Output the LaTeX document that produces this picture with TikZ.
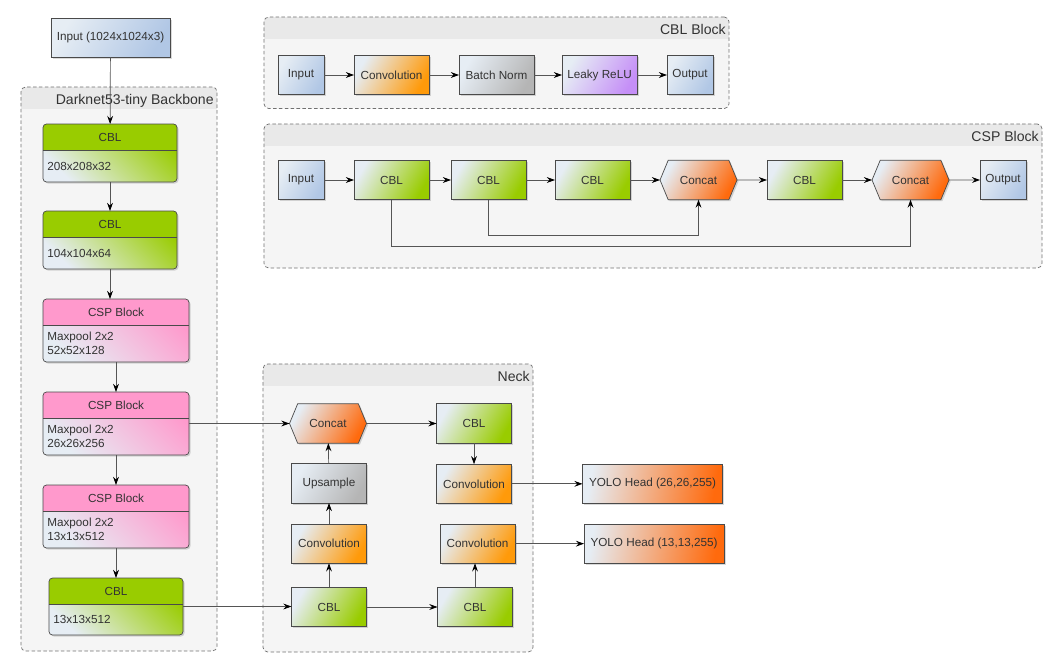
\documentclass[tikz,border=0pt]{standalone}
\usepackage{fontspec}
\setmainfont{Liberation Sans}
\usetikzlibrary{positioning, arrows.meta, shapes.symbols, shadows}

\definecolor{pale}{HTML}{E6EDF4}
\definecolor{edge}{HTML}{4A4A4A}
\definecolor{ink}{HTML}{333333}
\definecolor{wire}{HTML}{555555}
\definecolor{inblue}{HTML}{B1C7E5}
\definecolor{convorange}{HTML}{FF9A0A}
\definecolor{normgray}{HTML}{B5B5B5}
\definecolor{relupurple}{HTML}{C58FF7}
\definecolor{cblgreen}{HTML}{99CC00}
\definecolor{csppink}{HTML}{FF99CC}
\definecolor{catorange}{HTML}{FF6A0D}
\definecolor{groupfill}{HTML}{F5F5F5}
\definecolor{bandfill}{HTML}{E9E9E9}
\definecolor{dashgray}{HTML}{707070}

\begin{document}
\begin{tikzpicture}[
        x=0.03cm, y=-0.03cm,
        font=\fontsize{10}{12}\selectfont,
        text=ink,
        >={Stealth[length=7pt, width=5pt, inset=2.5pt, color=black]},
        box/.style={
            draw=edge, line width=0.6pt, outer sep=0pt,
            top color=pale, bottom color=#1, shading angle=60,
            minimum width=2.25cm, minimum height=1.18cm, inner sep=2pt,
            drop shadow={shadow xshift=1.3pt, shadow yshift=-1.3pt, opacity=0.3}
        },
        port/.style={box=inblue, minimum width=1.38cm},
        concat/.style={
            box=catorange, shape=signal, signal to=east and west,
            signal pointer angle=135, minimum width=2.31cm
        },
        stage/.style n args={3}{
            draw=edge, line width=0.6pt, rounded corners=3pt, outer sep=0pt,
            top color=pale, bottom color=#1, shading angle=135,
            minimum width=4.02cm, minimum height=1.74cm,
            drop shadow={shadow xshift=1.3pt, shadow yshift=-1.3pt, opacity=0.3},
            path picture={
                \fill[#1, sharp corners] (path picture bounding box.north west)
                    rectangle ([yshift=-0.78cm]path picture bounding box.north east);
                \draw[edge, line width=0.6pt]
                    ([yshift=-0.78cm]path picture bounding box.north west) --
                    ([yshift=-0.78cm]path picture bounding box.north east);
                \node[minimum size=0pt, inner sep=0pt, anchor=center]
                    at ([yshift=-0.39cm]path picture bounding box.north) {#2};
                \node[minimum size=0pt, inner sep=0pt, anchor=west, align=left]
                    at ([xshift=0.13cm, yshift=-0.39cm]path picture bounding box.west) {#3};
            }
        },
        group/.style={
            draw=dashgray, dash pattern=on 3pt off 2pt, line width=0.6pt,
            rounded corners=4pt, fill=groupfill,
            path picture={
                \fill[bandfill, sharp corners] (path picture bounding box.north west)
                    rectangle ([yshift=-0.65cm]path picture bounding box.north east);
                \node[minimum size=0pt, inner sep=0pt, anchor=base east, font=\fontsize{12}{14}\selectfont]
                    at ([xshift=-0.09cm, yshift=-0.53cm]path picture bounding box.north east) {#1};
            }
        },
        arrow/.style={->, draw=wire, line width=0.6pt}
    ]

    \useasboundingbox (0,0) rectangle (1057,670);

    % Groups
    \node[group={CBL Block}, minimum width=13.95cm, minimum height=2.745cm] (cblgrp) at (496.5,62.75) {};
    \node[group={CSP Block}, minimum width=23.34cm, minimum height=4.32cm] (cspgrp) at (653,196) {};
    \node[group={Darknet53-tiny Backbone}, minimum width=5.88cm, minimum height=16.92cm] (bbgrp) at (119,369) {};
    \node[group=Neck, minimum width=8.1cm, minimum height=8.64cm] (neckgrp) at (398,508) {};

    % CBL block
    \node[port] (cblin) at (301,75) {Input};
    \node[box=convorange, right=0.9cm of cblin] (cblconv) {Convolution};
    \node[box=normgray, right=0.9cm of cblconv] (cblnorm) {Batch Norm};
    \node[box=relupurple, right=0.84cm of cblnorm] (cblrelu) {Leaky ReLU};
    \node[port, right=0.9cm of cblrelu] (cblout) {Output};

    % CSP block
    \node[port] (cspin) at (301,180) {Input};
    \node[box=cblgreen, right=0.9cm of cspin] (csp1) {CBL};
    \node[box=cblgreen, right=0.66cm of csp1] (csp2) {CBL};
    \node[box=cblgreen, right=0.87cm of csp2] (csp3) {CBL};
    \node[concat, right=0.9cm of csp3] (cspcat1) {Concat};
    \node[box=cblgreen, right=0.9cm of cspcat1] (csp4) {CBL};
    \node[concat, right=0.9cm of csp4] (cspcat2) {Concat};
    \node[port, right=0.93cm of cspcat2] (cspout) {Output};

    % Backbone
    \node[port, minimum width=3.57cm, minimum height=1.17cm] (imgin) at (110.5,37.5) {Input (1024x1024x3)};
    \node[stage={cblgreen}{CBL}{208x208x32}] (bb1) at (110,153) {};
    \node[stage={cblgreen}{CBL}{104x104x64}, below=0.87cm of bb1] (bb2) {};
    \node[stage={csppink}{CSP Block}{Maxpool 2x2\\52x52x128}, minimum width=4.38cm, minimum height=1.89cm,
        below=0.9cm of bb2.south west, anchor=north west] (bb3) {};
    \node[stage={csppink}{CSP Block}{Maxpool 2x2\\26x26x256}, minimum width=4.38cm, minimum height=1.89cm,
        below=0.9cm of bb3] (bb4) {};
    \node[stage={csppink}{CSP Block}{Maxpool 2x2\\13x13x512}, minimum width=4.38cm, minimum height=1.89cm,
        below=0.9cm of bb4] (bb5) {};
    \node[stage={cblgreen}{CBL}{13x13x512}, minimum height=1.71cm, below=0.9cm of bb5] (bb6) {};

    % Neck
    \node[box=cblgreen] (neckcbl1) at (329,607) {CBL};
    \node[box=convorange, above=0.72cm of neckcbl1] (neckconv1) {Convolution};
    \node[box=normgray, above=0.63cm of neckconv1] (neckup) {Upsample};
    \node[concat] (neckcat) at (328,423.5) {Concat};
    \node[box=cblgreen, right=2.1cm of neckcat] (neckcbl2) {CBL};
    \node[box=convorange, below=0.63cm of neckcbl2] (neckconv2) {Convolution};
    \node[box=cblgreen, right=2.13cm of neckcbl1] (neckcbl3) {CBL};
    \node[box=convorange, above=0.72cm of neckcbl3, xshift=0.075cm] (neckconv3) {Convolution};

    % Heads
    \node[box=catorange, shading angle=80, minimum width=4.2cm, right=2.13cm of neckconv2] (head1) {YOLO Head (26,26,255)};
    \node[box=catorange, shading angle=80, minimum width=4.2cm, right=2.07cm of neckconv3] (head2) {YOLO Head (13,13,255)};

    % Arrows
    \draw[arrow] (cblin) -- (cblconv);
    \draw[arrow] (cblconv) -- (cblnorm);
    \draw[arrow] (cblnorm) -- (cblrelu);
    \draw[arrow] (cblrelu) -- (cblout);

    \draw[arrow] (cspin) -- (csp1);
    \draw[arrow] (csp1) -- (csp2);
    \draw[arrow] (csp2) -- (csp3);
    \draw[arrow] (csp3) -- (cspcat1);
    \draw[arrow] (cspcat1) -- (csp4);
    \draw[arrow] (csp4) -- (cspcat2);
    \draw[arrow] (cspcat2) -- (cspout);
    \draw[arrow] (csp1.south) -- ++(0,-1.395cm) -| (cspcat2.south);
    \draw[arrow] (csp2.south) -- ++(0,-1.08cm) -| (cspcat1.south);

    \draw[arrow] (imgin) -- (bb1);
    \draw[arrow] (bb1) -- (bb2);
    \draw[arrow] (bb2.south) -- (bb2.south |- bb3.north);
    \draw[arrow] (bb3) -- (bb4);
    \draw[arrow] (bb4) -- (bb5);
    \draw[arrow] (bb5) -- (bb6);

    \draw[arrow] (bb4.east) -- (neckcat.west);
    \draw[arrow] (bb6.east) -- (bb6.east -| neckcbl1.west);

    \draw[arrow] (neckcbl1) -- (neckconv1);
    \draw[arrow] (neckconv1) -- (neckup);
    \draw[arrow] (neckup) -- (neckcat);
    \draw[arrow] (neckcat) -- (neckcbl2);
    \draw[arrow] (neckcbl2) -- (neckconv2);
    \draw[arrow] (neckconv2) -- (head1);
    \draw[arrow] (neckcbl1) -- (neckcbl3);
    \draw[arrow] (neckcbl3.north) -- (neckcbl3.north |- neckconv3.south);
    \draw[arrow] (neckconv3) -- (head2);

\end{tikzpicture}
\end{document}
